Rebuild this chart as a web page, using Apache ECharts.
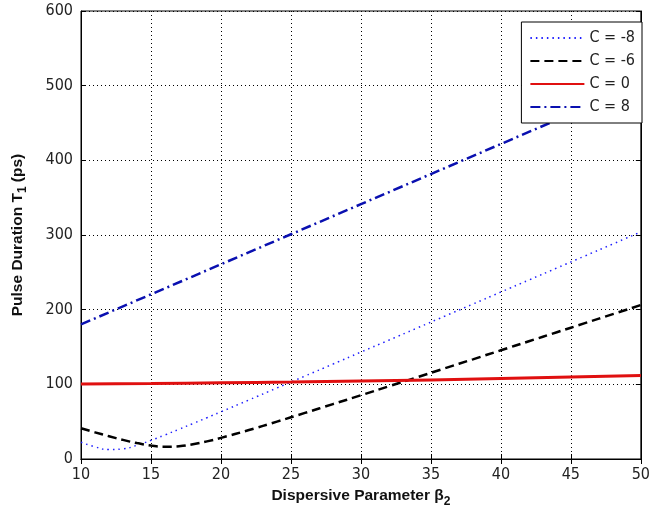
<!DOCTYPE html>
<html style="height: 100%">
<head>
<meta charset="utf-8">
</head>
<body style="height: 100%; margin: 0; background: #fff">
<div id="container" style="width: 653px; height: 513px"></div>
<script type="text/javascript" src="https://cdn.jsdelivr.net/npm/echarts@6/dist/echarts.min.js"></script>
<script type="text/javascript">
// beta2 values (fine steps for the curves with a minimum)
var betaFine = [10, 11, 12, 13, 14, 15, 16, 17, 18, 19, 20, 22, 24, 26, 28, 30, 32, 34, 36, 38, 40, 42, 44, 46, 48, 50];
var betaCoarse = [10, 15, 20, 25, 30, 35, 40, 45, 50];

var cMinus8 = [22.4, 16.3, 12.6, 13.6, 18.4, 25.0, 32.2, 39.8, 47.5, 55.3, 63.2, 79.1, 95.1, 111.1, 127.1, 143.2, 159.2, 175.3, 191.4, 207.5, 223.6, 239.7, 255.8, 271.9, 288.0, 304.1];
var cMinus6 = [41.2, 35.7, 30.5, 25.6, 21.3, 18.0, 16.5, 17.1, 19.7, 23.6, 28.3, 38.8, 50.1, 61.7, 73.5, 85.4, 97.4, 109.4, 121.5, 133.5, 145.6, 157.7, 169.8, 181.9, 194.0, 206.2];
var cZero = [100.5, 101.1, 102.0, 103.1, 104.4, 105.9, 107.7, 109.7, 111.8];
var cPlus8 = [180.3, 220.5, 260.8, 301.0, 341.3, 381.6, 421.9, 462.2, 502.5];

var names = ['C = -8', 'C = -6', 'C = 0', 'C = 8'];

function pairs(xs, ys) {
    var res = [];
    for (var i = 0; i < xs.length; i++) {
        res.push([xs[i], ys[i]]);
    }
    return res;
}

var dom = document.getElementById('container');
var myChart = echarts.init(dom, null, {renderer: 'canvas'});

var narrow = "'Liberation Sans Narrow', 'DejaVu Sans Condensed', 'Liberation Sans'";
var gridDots = {show: true, lineStyle: {color: '#000', width: 1, type: [1, 3]}};
var labelFont = {fontFamily: narrow, fontSize: 16, color: '#222'};
var titleRich = {
    a: {fontFamily: 'Liberation Sans', fontSize: 15.5, fontWeight: 'bold', color: '#111'},
    s: {fontFamily: 'Liberation Sans', fontSize: 12, fontWeight: 'bold', color: '#111', padding: [11, 0, 0, 0]}
};

var option = {
    backgroundColor: '#fff',
    animation: false,
    grid: {left: 81, right: 7, top: 11, bottom: 54, show: true, borderColor: '#000', borderWidth: 1, backgroundColor: '#fff'},
    legend: {
        orient: 'vertical',
        right: 11,
        top: 22,
        data: names,
        itemWidth: 54,
        itemHeight: 14,
        itemGap: 7,
        padding: [8, 7, 8, 8],
        backgroundColor: '#fff',
        borderColor: '#000',
        borderWidth: 1,
        borderRadius: 0,
        align: 'left',
        itemStyle: {opacity: 0},
        textStyle: {fontFamily: narrow, fontSize: 16, color: '#222'}
    },
    xAxis: [{
        type: 'value',
        min: 10, max: 50, interval: 5,
        name: '{a|Dispersive Parameter β}{s|2}',
        nameLocation: 'middle',
        nameGap: 25,
        nameTextStyle: {rich: titleRich},
        axisLine: {show: true, lineStyle: {color: '#000', width: 1}},
        axisTick: {show: true, inside: true, length: 5, lineStyle: {color: '#000'}},
        axisLabel: Object.assign({margin: 8}, labelFont),
        splitLine: gridDots
    }, {
        type: 'value',
        position: 'top',
        min: 10, max: 50, interval: 5,
        axisLine: {show: true, lineStyle: {color: '#000'}},
        axisTick: {show: true, inside: true, length: 5, lineStyle: {color: '#000'}},
        axisLabel: {show: false},
        splitLine: {show: false}
    }],
    yAxis: [{
        type: 'value',
        min: 0, max: 600, interval: 100,
        name: '{a|Pulse Duration T}{s|1}{a| (ps)}',
        nameLocation: 'middle',
        nameGap: 52,
        nameTextStyle: {rich: titleRich},
        axisLine: {show: true, lineStyle: {color: '#000', width: 1}},
        axisTick: {show: true, inside: true, length: 5, lineStyle: {color: '#000'}},
        axisLabel: Object.assign({margin: 8}, labelFont),
        splitLine: gridDots
    }, {
        type: 'value',
        position: 'right',
        min: 0, max: 600, interval: 100,
        axisLine: {show: true, lineStyle: {color: '#000'}},
        axisTick: {show: true, inside: true, length: 5, lineStyle: {color: '#000'}},
        axisLabel: {show: false},
        splitLine: {show: false}
    }],
    series: [
        {
            name: names[0], type: 'line', symbol: 'none', smooth: true,
            data: pairs(betaFine, cMinus8),
            color: '#2020ff',
            lineStyle: {color: '#2020ff', width: 1.5, type: [1.5, 4]}
        },
        {
            name: names[1], type: 'line', symbol: 'none', smooth: true,
            data: pairs(betaFine, cMinus6),
            color: '#000',
            lineStyle: {color: '#000', width: 2.5, type: [9, 5]}
        },
        {
            name: names[2], type: 'line', symbol: 'none', smooth: true,
            data: pairs(betaCoarse, cZero),
            color: '#e01010',
            lineStyle: {color: '#e01010', width: 3, type: 'solid'}
        },
        {
            name: names[3], type: 'line', symbol: 'none',
            data: pairs(betaCoarse, cPlus8),
            color: '#0a10b0',
            lineStyle: {color: '#0a10b0', width: 2.5, type: [10, 4, 2, 4]}
        }
    ]
};

myChart.setOption(option);
</script>
</body>
</html>
